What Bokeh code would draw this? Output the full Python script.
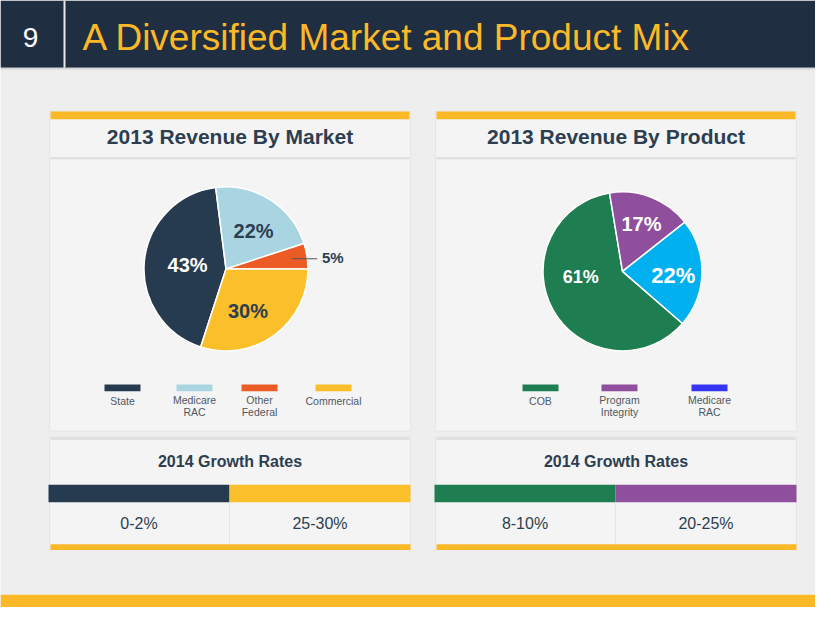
from bokeh.plotting import figure
from bokeh.models import Range1d
from bokeh.embed import file_html
from bokeh.resources import INLINE
from bokeh.core.properties import value
import math

# ---------------- data ----------------
page_number = "9"
slide_title = "A Diversified Market and Product Mix"

market_title = "2013 Revenue By Market"
market_labels = ["State", "Medicare RAC", "Other Federal", "Commercial"]
market_legend_text = ["State", "Medicare\nRAC", "Other\nFederal", "Commercial"]
market_values = [43, 22, 5, 30]

product_title = "2013 Revenue By Product"
product_labels = ["COB", "Program Integrity", "Medicare RAC"]
product_legend_text = ["COB", "Program\nIntegrity", "Medicare\nRAC"]
product_values = [61, 17, 22]

growth_title = "2014 Growth Rates"
market_growth_labels = ["0-2%", "25-30%"]
product_growth_labels = ["8-10%", "20-25%"]
growth_shares = [1, 1]

# ---------------- style ----------------
NAVY = "#1f2e40"
GOLD = "#fbb928"
TXT = "#2d3e50"
LEG_TXT = "#4f5862"
BG = "#eeeeee"
PANEL = "#f4f4f4"
FONT = value("Liberation Sans")

market_colors = ["#263b50", "#a9d5e2", "#ea5b26", "#fbbf2b"]
market_legend_colors = market_colors
product_colors = ["#1f7d52", "#8f4f9c", "#00b0ef"]
product_legend_colors = ["#1f7d52", "#8f4f9c", "#3434f2"]
market_growth_colors = ["#263b50", "#fbbf2b"]
product_growth_colors = ["#1f7d52", "#8f4f9c"]

W, H = 831, 623


def Y(py):
    return H - py


p = figure(width=815, height=607, output_backend="svg", toolbar_location=None,
           x_range=Range1d(0, 815), y_range=Range1d(0, H),
           min_border=0, background_fill_color=BG, border_fill_color=BG)
p.axis.visible = False
p.grid.visible = False
p.outline_line_color = None


def rect(x0, x1, y0, y1, color, line=None, lw=1):
    p.quad(left=x0, right=x1, top=Y(y0), bottom=Y(y1), fill_color=color,
           line_color=line, line_width=lw)


def txt(x, y, s, size, color, bold=False, align="center"):
    p.text(x=[x], y=[Y(y)], text=[s], text_font=FONT, text_font_size=f"{size}px",
           text_color=color, text_align=align, text_baseline="middle",
           text_font_style="bold" if bold else "normal")


# header
rect(0, W, 0, 69, NAVY)
rect(0, W, 69, 71, "#d8d8d8")
p.segment(x0=[64], y0=[Y(0)], x1=[64], y1=[Y(69)], line_color="#e8e8e8", line_width=2)
txt(30, 38, page_number, 28, "white")
txt(82, 38, slide_title, 37, GOLD, align="left")

# bottom gold bar
rect(0, W, 610, H, GOLD)


def panel(x0, x1, title, labels_leg, leg_colors, values, colors, start_deg, cx, cy, r,
          label_specs, leg_centers, growth_labels, growth_colors):
    # upper panel
    rect(x0 - 1, x1 + 1, 114, 442, PANEL, line="#e6e6e6")
    rect(x0, x1, 114, 122, GOLD)
    txt((x0 + x1) / 2, 140, title, 21, TXT, bold=True)
    rect(x0, x1, 161, 163, "#dcdcdc")

    # pie (clockwise from start_deg)
    total = sum(values)
    cum = 0
    mids = []
    for v, c in zip(values, colors):
        a_end = start_deg - cum / total * 360
        cum += v
        a_start = start_deg - cum / total * 360
        p.wedge(x=[cx], y=[Y(cy)], radius=r, start_angle=math.radians(a_start),
                end_angle=math.radians(a_end),
                fill_color=c, line_color="white", line_width=1.5)
        mids.append((a_start + a_end) / 2)
    for (v, mid, spec) in zip(values, mids, label_specs):
        rf, dang, size, col, lead = spec
        ang = math.radians(mid + dang)
        lx = cx + rf * r * math.cos(ang)
        ly = cy - rf * r * math.sin(ang)
        txt(lx, ly, f"{v}%", size, col, bold=True)
        if lead:
            a = math.radians(mid)
            p.segment(x0=[cx + 0.82 * r * math.cos(a)], y0=[Y(cy - 0.82 * r * math.sin(a))],
                      x1=[cx + 1.12 * r * math.cos(ang)], y1=[Y(cy - 1.12 * r * math.sin(ang))],
                      line_color="#555555", line_width=1)

    # legend
    for lab, c, lx in zip(labels_leg, leg_colors, leg_centers):
        rect(lx - 18, lx + 18, 394, 401, c)
        lines = lab.split("\n")
        if len(lines) == 1:
            txt(lx, 411, lines[0], 10.5, LEG_TXT)
        else:
            txt(lx, 410, lines[0], 10.5, LEG_TXT)
            txt(lx, 422, lines[1], 10.5, LEG_TXT)

    # lower panel: growth
    rect(x0 - 1, x1 + 1, 448, 564, PANEL, line="#e6e6e6")
    rect(x0, x1, 448, 451, "#e0e0e0")
    txt((x0 + x1) / 2, 473, growth_title, 16, TXT, bold=True)
    tot = sum(growth_shares)
    bx0, bx1 = x0 - 2, x1 + 1
    acc = 0
    centers = []
    for s, c in zip(growth_shares, growth_colors):
        a = bx0 + (bx1 - bx0) * acc / tot
        acc += s
        b = bx0 + (bx1 - bx0) * acc / tot
        rect(a, b, 497, 515, c)
        centers.append(((a + b) / 2, b))
    for (cxx, b), lab in zip(centers, growth_labels):
        txt(cxx, 537, lab, 16, TXT)
    p.segment(x0=[centers[0][1]], y0=[Y(515)], x1=[centers[0][1]], y1=[Y(558)],
              line_color="#e4e4e4", line_width=1)
    rect(x0, x1 + 1, 558, 564, GOLD)


# left panel: market
panel(50, 409, market_title, market_legend_text, market_legend_colors, market_values,
      market_colors, 252, 225.5, 275.5, 82,
      [(0.47, 0, 20, "white", False), (0.58, -3, 20, TXT, False),
       (1.31, -2.5, 15, TXT, True), (0.59, -9, 20, TXT, False)],
      [122, 194, 259, 333], market_growth_labels, market_growth_colors)

# right panel: product
panel(436, 795, product_title, product_legend_text, product_legend_colors, product_values,
      product_colors, 319, 622, 278, 79.5,
      [(0.53, -22, 18, "white", False), (0.66, 0, 20, "white", False),
       (0.64, -3, 22, "white", False)],
      [540, 619, 709], product_growth_labels, product_growth_colors)

open("out.html", "w").write(file_html(p, INLINE))
